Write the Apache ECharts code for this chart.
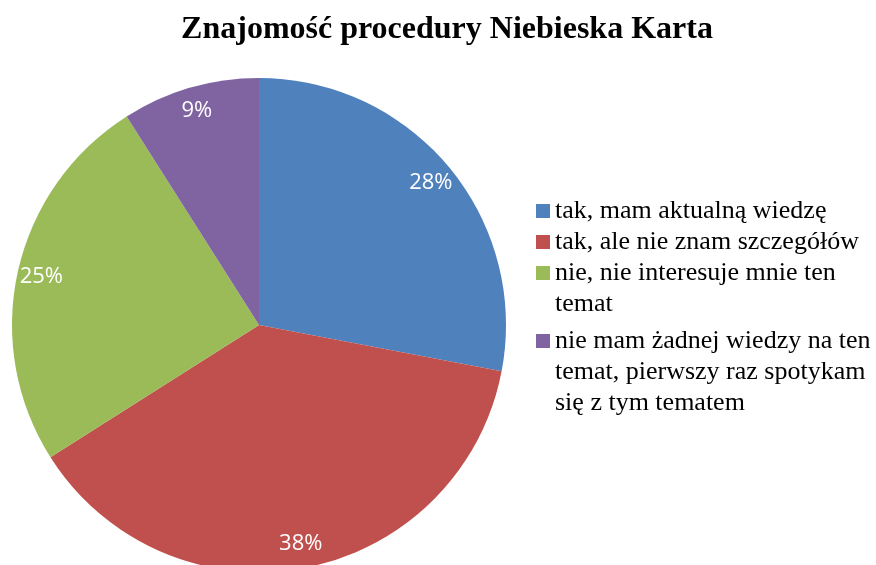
<!DOCTYPE html>
<html style="height: 100%">
   <head>
       <meta charset="utf-8">
   </head>
   <body style="height: 100%; margin: 0; background: #fff">
       <div id="container" style="width: 876px; height: 565px"></div>
       <script type="text/javascript" src="https://cdn.jsdelivr.net/npm/echarts@6/dist/echarts.min.js"></script>
       <script type="text/javascript">
// dane z wykresu
var categories = [
    'tak, mam aktualną wiedzę',
    'tak, ale nie znam szczegółów',
    'nie, nie interesuje mnie ten temat',
    'nie mam żadnej wiedzy na ten temat, pierwszy raz spotykam się z tym tematem'
];
var values = [28, 38, 25, 9];
// tekst legendy z podziałem na linie
var legendLines = [
    ['tak, mam aktualną wiedzę'],
    ['tak, ale nie znam szczegółów'],
    ['nie, nie interesuje mnie ten', 'temat'],
    ['nie mam żadnej wiedzy na ten', 'temat, pierwszy raz spotykam', 'się z tym tematem']
];
var colors = ['#4F81BD', '#C0504D', '#9BBB59', '#8064A2'];

var dom = document.getElementById("container");
var myChart = echarts.init(dom);

var pieData = categories.map(function (name, i) {
    return {name: name, value: values[i]};
});

var LH = 31;
var firstLineY = [211, 242, 273, 341];
var legends = categories.map(function (name, i) {
    var n = legendLines[i].length;
    // puste linie na górze, żeby ikonka stała przy pierwszej linii
    var pad = [];
    for (var k = 0; k < n - 1; k++) pad.push('');
    var text = pad.concat(legendLines[i]).join('\n');
    var boxH = LH * (2 * n - 1);
    return {
        data: [name],
        orient: 'vertical',
        left: 536,
        top: firstLineY[i] - boxH / 2,
        padding: 0,
        itemWidth: 14,
        itemHeight: 14,
        icon: 'rect',
        selectedMode: false,
        formatter: function () {
            return text;
        },
        textStyle: {
            fontFamily: 'Liberation Serif',
            fontSize: 26,
            color: '#000',
            lineHeight: LH
        }
    };
});

var option = {
    animation: false,
    color: colors,
    title: {
        text: 'Znajomość procedury Niebieska Karta',
        left: 442,
        textAlign: 'center',
        top: 9,
        textStyle: {
            fontFamily: 'Liberation Serif',
            fontWeight: 'bold',
            fontSize: 32,
            color: '#000'
        }
    },
    legend: legends,
    series: [
        {
            name: 'Znajomość',
            type: 'pie',
            center: [259, 325],
            radius: [0, 247],
            startAngle: 90,
            clockwise: true,
            silent: true,
            label: {show: false},
            labelLine: {show: false},
            data: pieData
        },
        {
            // etykiety procentowe blisko krawędzi
            name: 'etykiety',
            type: 'pie',
            center: [259, 325],
            radius: [193, 247],
            startAngle: 90,
            clockwise: true,
            silent: true,
            itemStyle: {color: 'rgba(0,0,0,0)'},
            label: {
                show: true,
                position: 'inside',
                formatter: '{c}%',
                color: '#fff',
                fontFamily: 'Open Sans',
                fontSize: 22
            },
            labelLine: {show: false},
            data: pieData
        }
    ]
};

myChart.setOption(option);
       </script>
   </body>
</html>
